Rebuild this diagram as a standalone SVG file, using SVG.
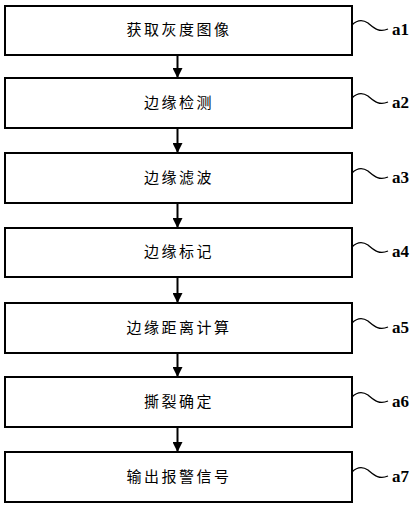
<svg xmlns="http://www.w3.org/2000/svg" width="417" height="505" viewBox="0 0 417 505">
<style>
.box{fill:#fff;stroke:#000;stroke-width:2}
.t{font-family:"Liberation Serif","Noto Sans CJK SC",serif;font-size:15px;letter-spacing:2.5px;text-anchor:middle;fill:#000}
.lab{font-family:"Liberation Serif","DejaVu Serif","Times New Roman",serif;font-size:17px;font-weight:bold;fill:#000}
.wave{fill:none;stroke:#000;stroke-width:1.3}
.conn{stroke:#000;stroke-width:2;fill:none}
</style>
<defs>
<marker id="ah" viewBox="0 0 10 10" refX="10" refY="5" markerWidth="10" markerHeight="10" markerUnits="userSpaceOnUse" orient="auto">
<path d="M0,0 L10,5 L0,10 Z" fill="#000"/>
</marker>
</defs>
<rect width="417" height="505" fill="#fff"/>
<g id="connectors">
<line class="conn" x1="177.5" y1="55" x2="177.5" y2="78" marker-end="url(#ah)"/>
<line class="conn" x1="177.5" y1="128" x2="177.5" y2="153" marker-end="url(#ah)"/>
<line class="conn" x1="177.5" y1="203" x2="177.5" y2="228" marker-end="url(#ah)"/>
<line class="conn" x1="177.5" y1="277" x2="177.5" y2="303" marker-end="url(#ah)"/>
<line class="conn" x1="177.5" y1="353" x2="177.5" y2="377" marker-end="url(#ah)"/>
<line class="conn" x1="177.5" y1="427" x2="177.5" y2="452" marker-end="url(#ah)"/>
</g>
<g id="a1">
<rect class="box" x="5" y="6" width="347" height="49"/>
<text class="t" x="179" y="35">获取灰度图像</text>
<path class="wave" d="M352,25 C357,20 362,19 368,23 C374,28 379,33 388,29"/>
<text class="lab" x="392" y="35">a1</text>
</g>
<g id="a2">
<rect class="box" x="5" y="78" width="347" height="50"/>
<text class="t" x="179" y="108">边缘检测</text>
<path class="wave" d="M352,98 C357,93 362,92 368,96 C374,101 379,106 388,102"/>
<text class="lab" x="392" y="108">a2</text>
</g>
<g id="a3">
<rect class="box" x="5" y="153" width="347" height="50"/>
<text class="t" x="179" y="183">边缘滤波</text>
<path class="wave" d="M352,173 C357,168 362,167 368,171 C374,176 379,181 388,177"/>
<text class="lab" x="392" y="183">a3</text>
</g>
<g id="a4">
<rect class="box" x="5" y="228" width="347" height="49"/>
<text class="t" x="179" y="257">边缘标记</text>
<path class="wave" d="M352,247 C357,242 362,241 368,245 C374,250 379,255 388,251"/>
<text class="lab" x="392" y="257">a4</text>
</g>
<g id="a5">
<rect class="box" x="5" y="303" width="347" height="50"/>
<text class="t" x="179" y="333">边缘距离计算</text>
<path class="wave" d="M352,323 C357,318 362,317 368,321 C374,326 379,331 388,327"/>
<text class="lab" x="392" y="333">a5</text>
</g>
<g id="a6">
<rect class="box" x="5" y="377" width="347" height="50"/>
<text class="t" x="179" y="407">撕裂确定</text>
<path class="wave" d="M352,397 C357,392 362,391 368,395 C374,400 379,405 388,401"/>
<text class="lab" x="392" y="407">a6</text>
</g>
<g id="a7">
<rect class="box" x="5" y="452" width="347" height="50"/>
<text class="t" x="179" y="482">输出报警信号</text>
<path class="wave" d="M352,472 C357,467 362,466 368,470 C374,475 379,480 388,476"/>
<text class="lab" x="392" y="482">a7</text>
</g>
</svg>
